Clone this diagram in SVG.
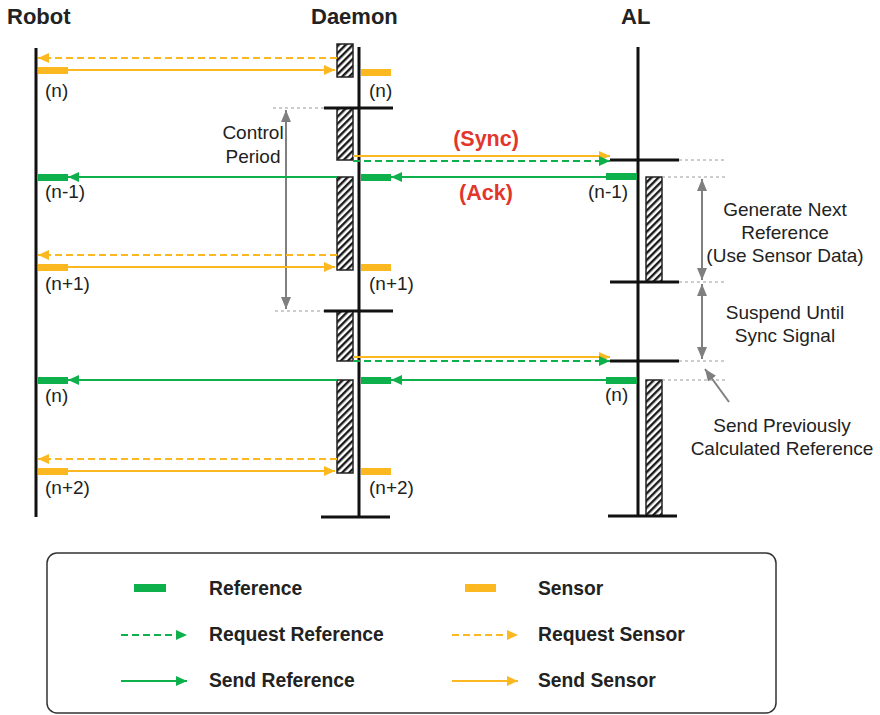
<svg xmlns="http://www.w3.org/2000/svg" width="880" height="715" viewBox="0 0 880 715">
<style>
text{font-family:"Liberation Sans",Arial,sans-serif;fill:#222}
.title{font-size:22px;font-weight:bold}
.lbl{font-size:19px}
.red{font-size:21.5px;font-weight:bold;fill:#e2352b}
.leg{font-size:19.3px;font-weight:bold}
.life{stroke:#111;stroke-width:3;fill:none}
.bar{stroke:#111;stroke-width:3}
.box{fill:url(#hatch);stroke:#222;stroke-width:1.5}
.gdash{stroke:#9a9a9a;stroke-width:1;stroke-dasharray:3,3}
.ys{stroke:#fbb820;stroke-width:2;fill:none}
.yd{stroke:#fbb820;stroke-width:2;stroke-dasharray:7,4;fill:none}
.gs{stroke:#0db04b;stroke-width:2;fill:none}
.gd{stroke:#0db04b;stroke-width:2;stroke-dasharray:7,4;fill:none}
.gray{stroke:#7f7f7f;stroke-width:2;fill:none}
.yb{fill:#fbb820}
.gb{fill:#0db04b}
</style>
<defs>
<pattern id="hatch" width="5" height="5" patternUnits="userSpaceOnUse" patternTransform="rotate(45)">
<rect width="5" height="5" fill="#fff"/>
<rect x="0" y="0" width="2.4" height="5" fill="#1a1a1a"/>
</pattern>
<marker id="aY" markerUnits="userSpaceOnUse" markerWidth="11" markerHeight="10" refX="11" refY="5" orient="auto"><path d="M0,0 L11,5 L0,10 z" fill="#fbb820"/></marker>
<marker id="aG" markerUnits="userSpaceOnUse" markerWidth="11" markerHeight="10" refX="11" refY="5" orient="auto"><path d="M0,0 L11,5 L0,10 z" fill="#0db04b"/></marker>
<marker id="aK" markerUnits="userSpaceOnUse" markerWidth="12" markerHeight="10" refX="12" refY="5" orient="auto-start-reverse"><path d="M0,0 L12,5 L0,10 z" fill="#7f7f7f"/></marker>
</defs>

<g id="robot">
<text class="title" x="7" y="24">Robot</text>
<line class="life" x1="36" y1="48" x2="36" y2="517"/>
<rect class="yb" x="38" y="67" width="30" height="7"/>
<rect class="gb" x="38" y="174" width="30" height="7"/>
<rect class="yb" x="38" y="264" width="30" height="7"/>
<rect class="gb" x="38" y="377" width="30" height="7"/>
<rect class="yb" x="38" y="468" width="30" height="7"/>
<text class="lbl" x="45" y="97">(n)</text>
<text class="lbl" x="45" y="198">(n-1)</text>
<text class="lbl" x="45" y="290">(n+1)</text>
<text class="lbl" x="45" y="402">(n)</text>
<text class="lbl" x="45" y="494">(n+2)</text>
</g>

<g id="daemon">
<text class="title" x="311" y="24">Daemon</text>
<line class="gdash" x1="273" y1="108" x2="324" y2="108"/>
<line class="gdash" x1="275" y1="311" x2="324" y2="311"/>
<rect class="box" x="337" y="44" width="16" height="33"/>
<rect class="box" x="337" y="108" width="16" height="52"/>
<rect class="box" x="337" y="177" width="16" height="93"/>
<rect class="box" x="337" y="311" width="16" height="50"/>
<rect class="box" x="337" y="380" width="16" height="93"/>
<line class="life" x1="359" y1="47" x2="359" y2="517"/>
<line class="bar" x1="324" y1="108" x2="393" y2="108"/>
<line class="bar" x1="324" y1="311" x2="393" y2="311"/>
<line class="bar" x1="321" y1="517" x2="390" y2="517"/>
<rect class="yb" x="361" y="69" width="30" height="7"/>
<rect class="gb" x="361" y="174" width="30" height="7"/>
<rect class="yb" x="361" y="264" width="30" height="7"/>
<rect class="gb" x="361" y="377" width="30" height="7"/>
<rect class="yb" x="361" y="468" width="30" height="7"/>
<text class="lbl" x="369" y="97">(n)</text>
<text class="lbl" x="369" y="290">(n+1)</text>
<text class="lbl" x="369" y="494">(n+2)</text>
<line class="gray" x1="286" y1="110" x2="286" y2="309" marker-start="url(#aK)" marker-end="url(#aK)"/>
<text class="lbl" x="253" y="139" text-anchor="middle">Control</text>
<text class="lbl" x="253" y="163" text-anchor="middle">Period</text>
</g>

<g id="al">
<text class="title" x="621" y="24">AL</text>
<rect class="box" x="646" y="177" width="16" height="105"/>
<rect class="box" x="646" y="380" width="16" height="136"/>
<line class="life" x1="638" y1="47" x2="638" y2="517"/>
<line class="bar" x1="610" y1="160" x2="679" y2="160"/>
<line class="bar" x1="610" y1="282" x2="679" y2="282"/>
<line class="bar" x1="610" y1="361" x2="679" y2="361"/>
<line class="bar" x1="608" y1="516" x2="677" y2="516"/>
<line class="gdash" x1="679" y1="160" x2="725" y2="160"/>
<line class="gdash" x1="662" y1="177" x2="725" y2="177"/>
<line class="gdash" x1="679" y1="282" x2="725" y2="282"/>
<line class="gdash" x1="679" y1="361" x2="725" y2="361"/>
<line class="gdash" x1="662" y1="380" x2="725" y2="380"/>
<rect class="gb" x="606" y="173" width="31" height="7"/>
<rect class="gb" x="606" y="377" width="31" height="7"/>
<text class="lbl" x="588" y="198">(n-1)</text>
<text class="lbl" x="605" y="401">(n)</text>
<line class="gray" x1="702" y1="179" x2="702" y2="280" marker-start="url(#aK)" marker-end="url(#aK)"/>
<line class="gray" x1="702" y1="284" x2="702" y2="359" marker-start="url(#aK)" marker-end="url(#aK)"/>
<line class="gray" x1="729" y1="402" x2="705" y2="369" marker-end="url(#aK)"/>
<text class="lbl" x="785" y="216" text-anchor="middle">Generate Next</text>
<text class="lbl" x="785" y="239" text-anchor="middle">Reference</text>
<text class="lbl" x="785" y="262" text-anchor="middle">(Use Sensor Data)</text>
<text class="lbl" x="785" y="319" text-anchor="middle">Suspend Until</text>
<text class="lbl" x="785" y="342" text-anchor="middle">Sync Signal</text>
<text class="lbl" x="782" y="432" text-anchor="middle">Send Previously</text>
<text class="lbl" x="782" y="455" text-anchor="middle">Calculated Reference</text>
</g>

<g id="connectors">
<line class="yd" x1="337" y1="58" x2="38" y2="58" marker-end="url(#aY)"/>
<line class="ys" x1="68" y1="70" x2="335" y2="70" marker-end="url(#aY)"/>
<line class="ys" x1="353" y1="156" x2="610" y2="156" marker-end="url(#aY)"/>
<line class="gd" x1="353" y1="161" x2="610" y2="161" marker-end="url(#aG)"/>
<line class="gs" x1="606" y1="177" x2="391" y2="177" marker-end="url(#aG)"/>
<line class="gs" x1="337" y1="177" x2="68" y2="177" marker-end="url(#aG)"/>
<line class="yd" x1="337" y1="255" x2="38" y2="255" marker-end="url(#aY)"/>
<line class="ys" x1="68" y1="267" x2="335" y2="267" marker-end="url(#aY)"/>
<line class="ys" x1="353" y1="357" x2="610" y2="357" marker-end="url(#aY)"/>
<line class="gd" x1="353" y1="361" x2="610" y2="361" marker-end="url(#aG)"/>
<line class="gs" x1="606" y1="380" x2="391" y2="380" marker-end="url(#aG)"/>
<line class="gs" x1="337" y1="380" x2="68" y2="380" marker-end="url(#aG)"/>
<line class="yd" x1="337" y1="459" x2="38" y2="459" marker-end="url(#aY)"/>
<line class="ys" x1="68" y1="471" x2="335" y2="471" marker-end="url(#aY)"/>
<text class="red" x="486" y="146" text-anchor="middle">(Sync)</text>
<text class="red" x="486" y="200" text-anchor="middle">(Ack)</text>
</g>

<g id="legend">
<rect x="47" y="553" width="729" height="160" rx="10" fill="none" stroke="#333" stroke-width="1.5"/>
<rect class="gb" x="134" y="584" width="32" height="8"/>
<rect class="yb" x="465" y="584" width="31" height="8"/>
<line class="gd" x1="121" y1="635" x2="187" y2="635" stroke-dasharray="5,4" marker-end="url(#aG)"/>
<line class="yd" x1="452" y1="635" x2="518" y2="635" stroke-dasharray="5,4" marker-end="url(#aY)"/>
<line class="gs" x1="121" y1="681" x2="187" y2="681" marker-end="url(#aG)"/>
<line class="ys" x1="452" y1="681" x2="518" y2="681" marker-end="url(#aY)"/>
<text class="leg" x="209" y="595">Reference</text>
<text class="leg" x="538" y="595">Sensor</text>
<text class="leg" x="209" y="641">Request Reference</text>
<text class="leg" x="538" y="641">Request Sensor</text>
<text class="leg" x="209" y="687">Send Reference</text>
<text class="leg" x="538" y="687">Send Sensor</text>
</g>
</svg>
